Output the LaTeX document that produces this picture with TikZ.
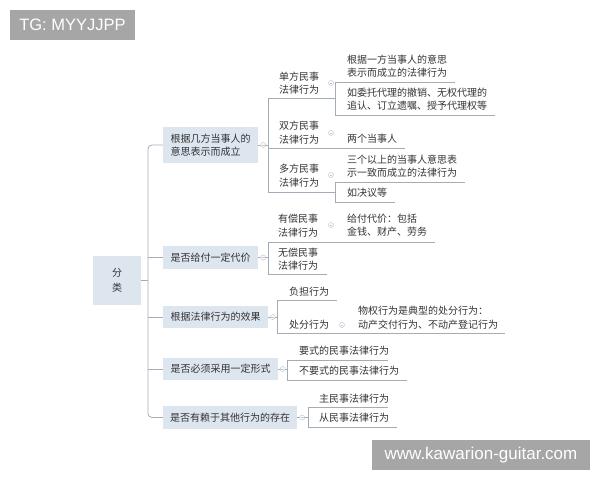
\documentclass[tikz,border=0pt]{standalone}
\usepackage{fontspec}
\newfontfamily\cjk{Noto Sans CJK SC}
\newfontfamily\lat{Liberation Sans}
\definecolor{linec}{HTML}{A3ACB7}
\definecolor{boxc}{HTML}{DDE5EF}
\definecolor{textc}{HTML}{333333}
\definecolor{iconc}{HTML}{C3C8CE}
\definecolor{tagc}{HTML}{A6A6A6}
\begin{document}
\begin{tikzpicture}[x=1pt,y=-1pt,
  line/.style={draw=linec,line width=0.8pt},
  box/.style={fill=boxc,text=textc,align=left,inner sep=0pt,font=\cjk\fontsize{10}{13.5}\selectfont},
  txt/.style={text=textc,align=left,inner sep=0pt,anchor=west,font=\cjk\fontsize{10}{13.5}\selectfont},
  icon/.style={circle,draw=iconc,fill=white,line width=0.5pt,minimum size=5pt,inner sep=0pt,
    path picture={\draw[iconc,line width=0.4pt] ([xshift=-1.3pt]path picture bounding box.center) -- ([xshift=1.3pt]path picture bounding box.center);}},
  tag/.style={fill=tagc,text=white,inner sep=0pt,font=\lat}
]
\useasboundingbox (0,0) rectangle (600,480);

% overlay tags
\node[tag,minimum width=125pt,minimum height=30pt] (tg) at (72.5,25) {\fontsize{16.5}{18}\selectfont TG: MYYJJPP};
\node[tag,minimum width=218pt,minimum height=30pt] (url) at (481,455) {\fontsize{17}{19}\selectfont www.kawarion-guitar.com};

% root and level 1
\node[box,align=center,minimum width=48pt,minimum height=49pt,font=\cjk\fontsize{10}{15}\selectfont] (root) at (117,280.5) {分\\类};
\node[box,minimum width=95pt,minimum height=36pt] (b1) at (210.5,145) {根据几方当事人的\\意思表示而成立};
\node[box,minimum width=95pt,minimum height=23pt] (b2) at (210.5,257.5) {是否给付一定代价};
\node[box,minimum width=105pt,minimum height=22pt] (b3) at (215.5,317) {根据法律行为的效果};
\node[box,minimum width=115pt,minimum height=22pt] (b4) at (220.5,369) {是否必须采用一定形式};
\node[box,minimum width=134pt,minimum height=23pt] (b5) at (230,417.5) {是否有赖于其他行为的存在};

% trunk
\coordinate (tr) at (148,145);
\draw[line,rounded corners=4pt] (b1.west) -- (b1.west -| tr) |- (b5.west);
\draw[line] (root.east) -- (root.east -| tr);
\draw[line] (b2.west -| tr) -- (b2.west);
\draw[line] (b3.west -| tr) -- (b3.west);
\draw[line] (b4.west -| tr) -- (b4.west);

% ---------- branch 1
\coordinate (k1t) at (268,98);
\coordinate (k1b) at (268,192);
\draw[line] (b1.east) -- (b1.east -| k1t);
\draw[line] (k1t) -- (k1b);
\coordinate (u1) at (335,98);
\coordinate (u2) at (405,148);
\coordinate (u3) at (335,192);
\draw[line] (k1t) -- (u1);
\draw[line] (k1t |- u2) -- (u2);
\draw[line] (k1b) -- (u3);
\node[txt] (d1) at (279,83) {单方民事\\法律行为};
\node[txt] (d2) at (279,132.5) {双方民事\\法律行为};
\node[txt] (d3) at (279,175.5) {多方民事\\法律行为};
% 单方 children
\coordinate (s1t) at (335,82);
\coordinate (s1b) at (335,115);
\coordinate (e1) at (455,82);
\coordinate (e2) at (495,115);
\draw[line] (s1t) -- (s1b);
\draw[line] (s1t) -- (e1);
\draw[line] (s1b) -- (e2);
\node[txt] (c1) at (347,66) {根据一方当事人的意思\\表示而成立的法律行为};
\node[txt] (c2) at (347,99) {如委托代理的撤销、无权代理的\\追认、订立遗嘱、授予代理权等};
\node[txt] (c3) at (347,139) {两个当事人};
% 多方 children
\coordinate (s3t) at (335,182);
\coordinate (s3b) at (335,202);
\coordinate (e4) at (465,182);
\coordinate (e5) at (395,202);
\draw[line] (s3t) -- (s3b);
\draw[line] (s3t) -- (e4);
\draw[line] (s3b) -- (e5);
\node[txt] (c4) at (347,166) {三个以上的当事人意思表\\示一致而成立的法律行为};
\node[txt] (c5) at (347,192.5) {如决议等};

% ---------- branch 2
\coordinate (k2t) at (268,242);
\coordinate (k2b) at (268,274);
\coordinate (e6) at (435,242);
\coordinate (e7) at (327,274);
\draw[line] (b2.east) -- (b2.east -| k2t);
\draw[line] (k2t) -- (k2b);
\draw[line] (k2t) -- (e6);
\draw[line] (k2b) -- (e7);
\node[txt] (d4) at (278,225.5) {有偿民事\\法律行为};
\node[txt] (d5) at (278,259) {无偿民事\\法律行为};
\node[txt] (c6) at (347,225) {给付代价：包括\\金钱、财产、劳务};

% ---------- branch 3
\coordinate (k3t) at (277,300);
\coordinate (k3b) at (277,333);
\coordinate (e8) at (337,300);
\coordinate (e9) at (505,333);
\draw[line] (b3.east) -- (b3.east -| k3t);
\draw[line] (k3t) -- (k3b);
\draw[line] (k3t) -- (e8);
\draw[line] (k3b) -- (e9);
\node[txt] (d6) at (289,292) {负担行为};
\node[txt] (d7) at (289,325) {处分行为};
\node[txt] (c7) at (358,317.5) {物权行为是典型的处分行为：\\动产交付行为、不动产登记行为};

% ---------- branch 4
\coordinate (k4t) at (287,360);
\coordinate (k4b) at (287,380);
\coordinate (e10) at (388,360);
\coordinate (e11) at (407,380);
\draw[line] (b4.east) -- (b4.east -| k4t);
\draw[line] (k4t) -- (k4b);
\draw[line] (k4t) -- (e10);
\draw[line] (k4b) -- (e11);
\node[txt] (d8) at (299,351) {要式的民事法律行为};
\node[txt] (d9) at (299,371) {不要式的民事法律行为};

% ---------- branch 5
\coordinate (k5t) at (308,407);
\coordinate (k5b) at (308,427);
\coordinate (e12) at (388,407);
\coordinate (e13) at (397,427);
\draw[line] (b5.east) -- (b5.east -| k5t);
\draw[line] (k5t) -- (k5b);
\draw[line] (k5t) -- (e12);
\draw[line] (k5b) -- (e13);
\node[txt] (d10) at (319,399) {主民事法律行为};
\node[txt] (d11) at (319,418) {从民事法律行为};

% collapse icons
\node[icon] (i1) at ([xshift=5pt]b1.east) {};
\node[icon] (i2) at ([xshift=5pt]b2.east) {};
\node[icon] (i3) at ([xshift=4.5pt]b3.east) {};
\node[icon] (i4) at ([xshift=4.5pt]b4.east) {};
\node[icon] (i5) at ([xshift=5pt]b5.east) {};
\node[icon] (i6) at (331,83) {};
\node[icon] (i7) at (331,133) {};
\node[icon] (i8) at (331,175) {};
\node[icon] (i9) at (331,225) {};
\node[icon] (i10) at (342,325) {};
\end{tikzpicture}
\end{document}
